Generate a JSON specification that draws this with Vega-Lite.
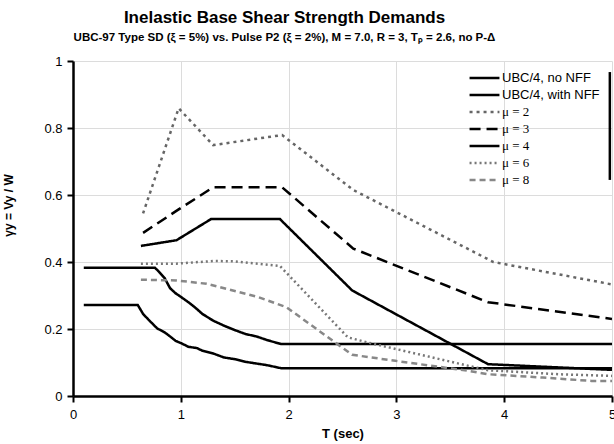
{
  "$schema": "https://vega.github.io/schema/vega-lite/v6.json",
  "width": 539,
  "height": 335,
  "autosize": {"type": "none"},
  "padding": {"left": 73, "top": 61, "right": 2, "bottom": 48},
  "background": "white",
  "title": {
    "text": "Inelastic Base Shear Strength Demands",
    "subtitle": "UBC-97 Type SD (ξ = 5%) vs. Pulse P2 (ξ = 2%), M = 7.0,  R = 3,  Tₚ = 2.6,  no P-Δ",
    "anchor": "middle",
    "frame": "group",
    "dx": -58,
    "offset": 11,
    "font": "Liberation Sans",
    "fontSize": 17,
    "fontWeight": "bold",
    "color": "black",
    "subtitleFont": "Liberation Sans",
    "subtitleFontSize": 11.5,
    "subtitleFontWeight": "bold",
    "subtitleColor": "black",
    "subtitlePadding": 5
  },
  "config": {
    "view": {"stroke": null},
    "axis": {
      "domainColor": "black",
      "domainWidth": 2.5,
      "tickColor": "black",
      "tickWidth": 2,
      "tickSize": 6,
      "labelFont": "Liberation Sans",
      "labelFontSize": 13,
      "labelColor": "black",
      "gridColor": "#dcdcdc",
      "gridWidth": 1,
      "titleFont": "Liberation Sans",
      "titleFontSize": 13,
      "titleFontWeight": "bold",
      "titleColor": "black"
    },
    "legend": {
      "orient": "none",
      "legendX": 403.5,
      "legendY": 9,
      "padding": 0,
      "title": null,
      "symbolSize": 169,
      "symbolType": "M-2.3,0L2.3,0",
      "labelFont": "Liberation Sans",
      "labelFontSize": 13,
      "labelColor": "black",
      "labelOffset": 9.5,
      "rowPadding": 2
    }
  },
  "layer": [
    {
      "data": {
        "values": [
          {"series": "UBC/4, no NFF", "T": 0.1, "V": 0.272},
          {"series": "UBC/4, no NFF", "T": 0.6, "V": 0.272},
          {"series": "UBC/4, no NFF", "T": 0.65, "V": 0.245},
          {"series": "UBC/4, no NFF", "T": 0.7, "V": 0.228},
          {"series": "UBC/4, no NFF", "T": 0.78, "V": 0.202},
          {"series": "UBC/4, no NFF", "T": 0.85, "V": 0.19},
          {"series": "UBC/4, no NFF", "T": 0.9, "V": 0.178},
          {"series": "UBC/4, no NFF", "T": 0.95, "V": 0.165},
          {"series": "UBC/4, no NFF", "T": 1.0, "V": 0.158},
          {"series": "UBC/4, no NFF", "T": 1.07, "V": 0.147},
          {"series": "UBC/4, no NFF", "T": 1.15, "V": 0.143},
          {"series": "UBC/4, no NFF", "T": 1.2, "V": 0.135},
          {"series": "UBC/4, no NFF", "T": 1.3, "V": 0.127},
          {"series": "UBC/4, no NFF", "T": 1.4, "V": 0.115},
          {"series": "UBC/4, no NFF", "T": 1.5, "V": 0.11},
          {"series": "UBC/4, no NFF", "T": 1.6, "V": 0.102},
          {"series": "UBC/4, no NFF", "T": 1.7, "V": 0.097},
          {"series": "UBC/4, no NFF", "T": 1.8, "V": 0.092},
          {"series": "UBC/4, no NFF", "T": 1.93, "V": 0.083},
          {"series": "UBC/4, no NFF", "T": 5.0, "V": 0.083},
          {"series": "UBC/4, with NFF", "T": 0.1, "V": 0.383},
          {"series": "UBC/4, with NFF", "T": 0.76, "V": 0.383},
          {"series": "UBC/4, with NFF", "T": 0.8, "V": 0.37},
          {"series": "UBC/4, with NFF", "T": 0.85, "V": 0.352},
          {"series": "UBC/4, with NFF", "T": 0.9, "V": 0.322},
          {"series": "UBC/4, with NFF", "T": 0.95, "V": 0.307},
          {"series": "UBC/4, with NFF", "T": 1.0, "V": 0.296},
          {"series": "UBC/4, with NFF", "T": 1.07, "V": 0.28},
          {"series": "UBC/4, with NFF", "T": 1.13, "V": 0.265},
          {"series": "UBC/4, with NFF", "T": 1.2, "V": 0.245},
          {"series": "UBC/4, with NFF", "T": 1.3, "V": 0.225},
          {"series": "UBC/4, with NFF", "T": 1.4, "V": 0.21},
          {"series": "UBC/4, with NFF", "T": 1.5, "V": 0.197},
          {"series": "UBC/4, with NFF", "T": 1.6, "V": 0.185},
          {"series": "UBC/4, with NFF", "T": 1.7, "V": 0.178},
          {"series": "UBC/4, with NFF", "T": 1.8, "V": 0.167},
          {"series": "UBC/4, with NFF", "T": 1.93, "V": 0.155},
          {"series": "UBC/4, with NFF", "T": 5.0, "V": 0.155},
          {"series": "μ = 2", "T": 0.65, "V": 0.545},
          {"series": "μ = 2", "T": 0.98, "V": 0.859},
          {"series": "μ = 2", "T": 1.3, "V": 0.749},
          {"series": "μ = 2", "T": 1.94, "V": 0.779},
          {"series": "μ = 2", "T": 2.6, "V": 0.615},
          {"series": "μ = 2", "T": 3.9, "V": 0.4},
          {"series": "μ = 2", "T": 5.0, "V": 0.333},
          {"series": "μ = 3", "T": 0.65, "V": 0.487},
          {"series": "μ = 3", "T": 0.98, "V": 0.557},
          {"series": "μ = 3", "T": 1.3, "V": 0.623},
          {"series": "μ = 3", "T": 1.94, "V": 0.623},
          {"series": "μ = 3", "T": 2.6, "V": 0.44},
          {"series": "μ = 3", "T": 3.85, "V": 0.28},
          {"series": "μ = 3", "T": 5.0, "V": 0.23},
          {"series": "μ = 4", "T": 0.63, "V": 0.448},
          {"series": "μ = 4", "T": 0.96, "V": 0.465},
          {"series": "μ = 4", "T": 1.28, "V": 0.528},
          {"series": "μ = 4", "T": 1.92, "V": 0.528},
          {"series": "μ = 4", "T": 2.59, "V": 0.315},
          {"series": "μ = 4", "T": 3.85, "V": 0.095},
          {"series": "μ = 4", "T": 5.0, "V": 0.078},
          {"series": "μ = 6", "T": 0.63, "V": 0.395},
          {"series": "μ = 6", "T": 0.96, "V": 0.395},
          {"series": "μ = 6", "T": 1.3, "V": 0.403},
          {"series": "μ = 6", "T": 1.5, "V": 0.402},
          {"series": "μ = 6", "T": 1.92, "V": 0.388},
          {"series": "μ = 6", "T": 2.55, "V": 0.175},
          {"series": "μ = 6", "T": 2.73, "V": 0.16},
          {"series": "μ = 6", "T": 3.67, "V": 0.09},
          {"series": "μ = 6", "T": 3.85, "V": 0.077},
          {"series": "μ = 6", "T": 4.5, "V": 0.065},
          {"series": "μ = 6", "T": 5.0, "V": 0.06},
          {"series": "μ = 8", "T": 0.63, "V": 0.347},
          {"series": "μ = 8", "T": 0.96, "V": 0.345},
          {"series": "μ = 8", "T": 1.24, "V": 0.335},
          {"series": "μ = 8", "T": 1.72, "V": 0.295},
          {"series": "μ = 8", "T": 1.98, "V": 0.265},
          {"series": "μ = 8", "T": 2.59, "V": 0.123},
          {"series": "μ = 8", "T": 2.99, "V": 0.105},
          {"series": "μ = 8", "T": 3.67, "V": 0.075},
          {"series": "μ = 8", "T": 3.85, "V": 0.065},
          {"series": "μ = 8", "T": 4.36, "V": 0.055},
          {"series": "μ = 8", "T": 4.81, "V": 0.045},
          {"series": "μ = 8", "T": 5.0, "V": 0.045}
        ]
      },
      "mark": {"type": "line", "strokeCap": "butt", "clip": true},
      "encoding": {
        "x": {
          "field": "T", "type": "quantitative",
          "scale": {"domain": [0, 5], "nice": false, "zero": false},
          "axis": {
            "values": [0, 1, 2, 3, 4, 5],
            "format": "~g",
            "title": "T (sec)",
            "labelPadding": 6,
            "labelBound": false,
            "labelFlush": false,
            "labelOverlap": false,
            "titlePadding": 6
          }
        },
        "y": {
          "field": "V", "type": "quantitative",
          "scale": {"domain": [0, 1], "nice": false},
          "axis": {
            "values": [0, 0.2, 0.4, 0.6, 0.8, 1],
            "format": "~g",
            "title": "γy = Vy / W",
            "titleFontSize": 12,
            "titleX": -58,
            "titleY": 144,
            "labelPadding": 5
          }
        },
        "color": {
          "field": "series", "type": "nominal",
          "scale": {
            "domain": ["UBC/4, no NFF", "UBC/4, with NFF", "μ = 2", "μ = 3", "μ = 4", "μ = 6", "μ = 8"],
            "range": ["black", "black", "#666666", "black", "black", "#777777", "#888888"]
          },
          "legend": {
            "encode": {
              "labels": {
                "update": {
                  "font": [
                    {"test": "indexof(datum.label, 'μ') >= 0", "value": "Liberation Serif"},
                    {"value": "Liberation Sans"}
                  ]
                }
              }
            }
          }
        },
        "strokeDash": {
          "field": "series", "type": "nominal",
          "scale": {
            "domain": ["UBC/4, no NFF", "UBC/4, with NFF", "μ = 2", "μ = 3", "μ = 4", "μ = 6", "μ = 8"],
            "range": [[1, 0], [1, 0], [3, 4], [11, 6], [1, 0], [2, 3], [6, 4]]
          }
        },
        "strokeWidth": {
          "field": "series", "type": "nominal",
          "scale": {
            "domain": ["UBC/4, no NFF", "UBC/4, with NFF", "μ = 2", "μ = 3", "μ = 4", "μ = 6", "μ = 8"],
            "range": [2.5, 2.5, 1.5, 2.5, 3, 1, 1]
          }
        }
      }
    },
    {
      "mark": {"type": "rule", "color": "black", "strokeWidth": 2.5},
      "encoding": {"y": {"datum": 1}}
    },
    {
      "data": {"values": [{"T": 4.98, "V1": 0.645, "V2": 0.967}]},
      "mark": {"type": "rule", "color": "black", "strokeWidth": 2.5},
      "encoding": {
        "x": {"field": "T", "type": "quantitative"},
        "y": {"field": "V1", "type": "quantitative"},
        "y2": {"field": "V2"}
      }
    }
  ]
}
